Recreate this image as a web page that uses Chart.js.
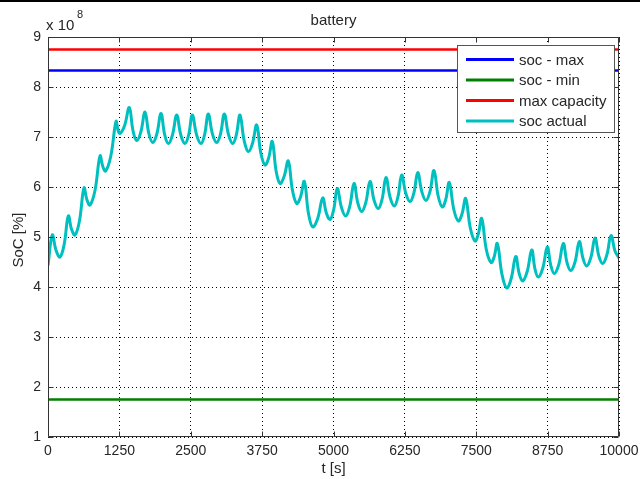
<!DOCTYPE html>
<html><head><meta charset="utf-8">
<script src="https://cdn.jsdelivr.net/npm/chart.js@4.4.1/dist/chart.umd.min.js"></script>
<style>html,body{margin:0;padding:0;background:#fff;overflow:hidden}#wrap{width:640px;height:479px;position:relative}</style>
</head><body><div id="wrap"><canvas id="c" width="640" height="479"></canvas></div>
<script>
// ---- data ----
const chartTitle = 'battery';
const xAxisLabel = 't [s]';
const yAxisLabel = 'SoC [%]';
const yExponentLabel = '8';
const xTicks = [0, 1250, 2500, 3750, 5000, 6250, 7500, 8750, 10000];
const yTicks = [1, 2, 3, 4, 5, 6, 7, 8, 9];
const seriesNames = ['soc - max', 'soc - min', 'max capacity', 'soc actual'];
const limitTimes = [0, 10000];
const socMax = [8.33, 8.33];
const socMin = [1.75, 1.75];
const maxCapacity = [8.75, 8.75];
const socTime = [
  0, 75, 142, 210, 283, 356, 414, 473, 551, 630, 683, 736, 823, 911, 960, 1010, 1100, 1191, 1226, 1261,
  1342, 1424, 1488, 1553, 1626, 1699, 1766, 1834, 1906, 1979, 2043, 2107, 2180, 2254, 2326, 2399, 2463, 2527,
  2603, 2680, 2743, 2807, 2880, 2954, 3021, 3088, 3161, 3235, 3298, 3362, 3435, 3508, 3581, 3655, 3727, 3800,
  3864, 3928, 3995, 4063, 4135, 4208, 4282, 4356, 4422, 4489, 4562, 4636, 4723, 4811, 4875, 4939, 5002, 5066,
  5140, 5214, 5286, 5359, 5426, 5494, 5566, 5639, 5712, 5785, 5852, 5919, 5992, 6065, 6130, 6194, 6267, 6340,
  6408, 6475, 6548, 6620, 6690, 6760, 6833, 6905, 6966, 7028, 7107, 7186, 7250, 7315, 7396, 7478, 7536, 7595,
  7676, 7758, 7813, 7869, 7951, 8033, 8112, 8191, 8252, 8313, 8392, 8471, 8529, 8587, 8666, 8744, 8806, 8867,
  8946, 9024, 9089, 9154, 9230, 9305, 9370, 9434, 9507, 9580, 9647, 9714, 9787, 9860, 9930, 10000
];
const socActual = [
  4.43, 5.04, 4.73, 4.60, 4.85, 5.42, 5.15, 5.04, 5.32, 5.98, 5.74, 5.64, 5.93, 6.62, 6.41, 6.32, 6.62, 7.31, 7.14, 7.07,
  7.23, 7.59, 7.13, 6.93, 7.10, 7.50, 7.07, 6.89, 7.06, 7.47, 7.05, 6.87, 7.04, 7.44, 7.04, 6.87, 7.04, 7.44,
  7.04, 6.87, 7.05, 7.46, 7.06, 6.89, 7.06, 7.46, 7.05, 6.87, 7.04, 7.44, 6.93, 6.71, 6.87, 7.24, 6.68, 6.44,
  6.58, 6.91, 6.32, 6.07, 6.21, 6.52, 5.93, 5.67, 5.80, 6.11, 5.47, 5.20, 5.37, 5.78, 5.48, 5.35, 5.54, 5.97,
  5.59, 5.42, 5.62, 6.07, 5.68, 5.51, 5.69, 6.11, 5.73, 5.57, 5.76, 6.19, 5.79, 5.62, 5.81, 6.24, 5.87, 5.71,
  5.88, 6.29, 5.90, 5.73, 5.91, 6.33, 5.82, 5.60, 5.75, 6.09, 5.55, 5.32, 5.46, 5.77, 5.18, 4.92, 5.06, 5.37,
  4.75, 4.49, 4.60, 4.87, 4.25, 3.98, 4.17, 4.61, 4.27, 4.12, 4.31, 4.74, 4.36, 4.20, 4.38, 4.80, 4.43, 4.27,
  4.45, 4.87, 4.49, 4.33, 4.50, 4.91, 4.57, 4.42, 4.59, 4.98, 4.62, 4.47, 4.64, 5.03, 4.72, 4.58
];
const seriesColors = ['#0000ff', '#008000', '#ff0000', '#00bfbf'];

// ---- chart ----
const FONT = '"Liberation Sans", Arial, Helvetica, sans-serif';
function pts(xs, ys) { return xs.map((x, i) => ({ x: x, y: ys[i] })); }

const decor = {
  id: 'decor',
  afterDatasetsDraw(chart) {
    const ctx = chart.ctx;
    const a = chart.chartArea;
    const xs = chart.scales.x, ys = chart.scales.y;
    ctx.save();
    ctx.fillStyle = '#000';
    ctx.fillRect(0, 0, 640, 2);
    ctx.strokeStyle = '#333';
    ctx.lineWidth = 1;
    const L = Math.round(a.left) + 0.5, R = Math.round(a.right) - 0.5;
    const T = Math.round(a.top) + 0.5, B = Math.round(a.bottom) - 0.5;
    ctx.beginPath();
    ctx.rect(L, T, R - L, B - T);
    ctx.stroke();
    ctx.beginPath();
    xTicks.forEach(v => {
      const px = Math.round(xs.getPixelForValue(v)) + 0.5;
      ctx.moveTo(px, B); ctx.lineTo(px, B - 5);
      ctx.moveTo(px, T); ctx.lineTo(px, T + 5);
    });
    yTicks.forEach(v => {
      const py = Math.round(ys.getPixelForValue(v)) + 0.5;
      ctx.moveTo(L, py); ctx.lineTo(L + 5, py);
      ctx.moveTo(R, py); ctx.lineTo(R - 5, py);
    });
    ctx.stroke();

    // legend
    const lx = 457.5, ly = 45.5, lw = 157, lh = 87;
    ctx.fillStyle = '#fff';
    ctx.fillRect(lx, ly, lw, lh);
    ctx.strokeStyle = '#555';
    ctx.strokeRect(lx, ly, lw, lh);
    ctx.font = '15px ' + FONT;
    ctx.textBaseline = 'middle';
    ctx.textAlign = 'left';
    chart.data.datasets.forEach((ds, i) => {
      const cy = 59.5 + i * 20.5;
      ctx.strokeStyle = ds.borderColor;
      ctx.lineWidth = 3;
      ctx.beginPath();
      ctx.moveTo(466, cy); ctx.lineTo(514, cy);
      ctx.stroke();
      ctx.fillStyle = '#262626';
      ctx.fillText(ds.label, 519, cy + 1);
    });

    ctx.fillStyle = '#262626';
    ctx.textAlign = 'center';
    ctx.font = '15px ' + FONT;
    ctx.fillText(chartTitle, (a.left + a.right) / 2, 21);
    ctx.fillText(xAxisLabel, (a.left + a.right) / 2, 469);
    ctx.save();
    ctx.translate(19, 240);
    ctx.rotate(-Math.PI / 2);
    ctx.fillText(yAxisLabel, 0, 0);
    ctx.restore();
    ctx.textAlign = 'left';
    ctx.font = '15px ' + FONT;
    ctx.fillText('x 10', 46, 26);
    ctx.font = '11px ' + FONT;
    ctx.fillText(yExponentLabel, 77, 15);
    ctx.restore();
  }
};

new Chart(document.getElementById('c'), {
  type: 'line',
  data: {
    datasets: [
      { label: seriesNames[0], data: pts(limitTimes, socMax), borderColor: seriesColors[0] },
      { label: seriesNames[1], data: pts(limitTimes, socMin), borderColor: seriesColors[1] },
      { label: seriesNames[2], data: pts(limitTimes, maxCapacity), borderColor: seriesColors[2] },
      { label: seriesNames[3], data: pts(socTime, socActual), borderColor: seriesColors[3], tension: 0.4, borderWidth: 3 }
    ]
  },
  options: {
    responsive: false,
    animation: false,
    devicePixelRatio: 1,
    layout: { padding: { top: 37, right: 21, left: 0, bottom: 0 } },
    elements: {
      point: { radius: 0, hoverRadius: 0 },
      line: { borderWidth: 2.6, tension: 0, fill: false, borderJoinStyle: 'round', borderCapStyle: 'butt' }
    },
    plugins: { legend: { display: false }, title: { display: false }, tooltip: { enabled: false } },
    events: [],
    scales: {
      x: {
        type: 'linear', min: 0, max: 10000,
        afterBuildTicks: s => { s.ticks = xTicks.map(v => ({ value: v })); },
        afterFit: s => { s.height = 42; s.paddingRight = 0; s.paddingLeft = 0; },
        ticks: { color: '#262626', font: { family: FONT, size: 14 }, padding: 6, maxRotation: 0, autoSkip: false,
                 callback: v => String(v) },
        grid: { color: '#000', lineWidth: 1, drawTicks: false },
        border: { display: false, dash: [1, 3] }
      },
      y: {
        type: 'linear', min: 1, max: 9,
        afterBuildTicks: s => { s.ticks = yTicks.map(v => ({ value: v })); },
        afterFit: s => { s.width = 48; s.paddingTop = 0; s.paddingBottom = 0; },
        ticks: { color: '#262626', font: { family: FONT, size: 14 }, padding: 7, callback: v => String(v) },
        grid: { color: '#000', lineWidth: 1, drawTicks: false },
        border: { display: false, dash: [1, 3] }
      }
    }
  },
  plugins: [decor]
});
</script>
</body></html>
